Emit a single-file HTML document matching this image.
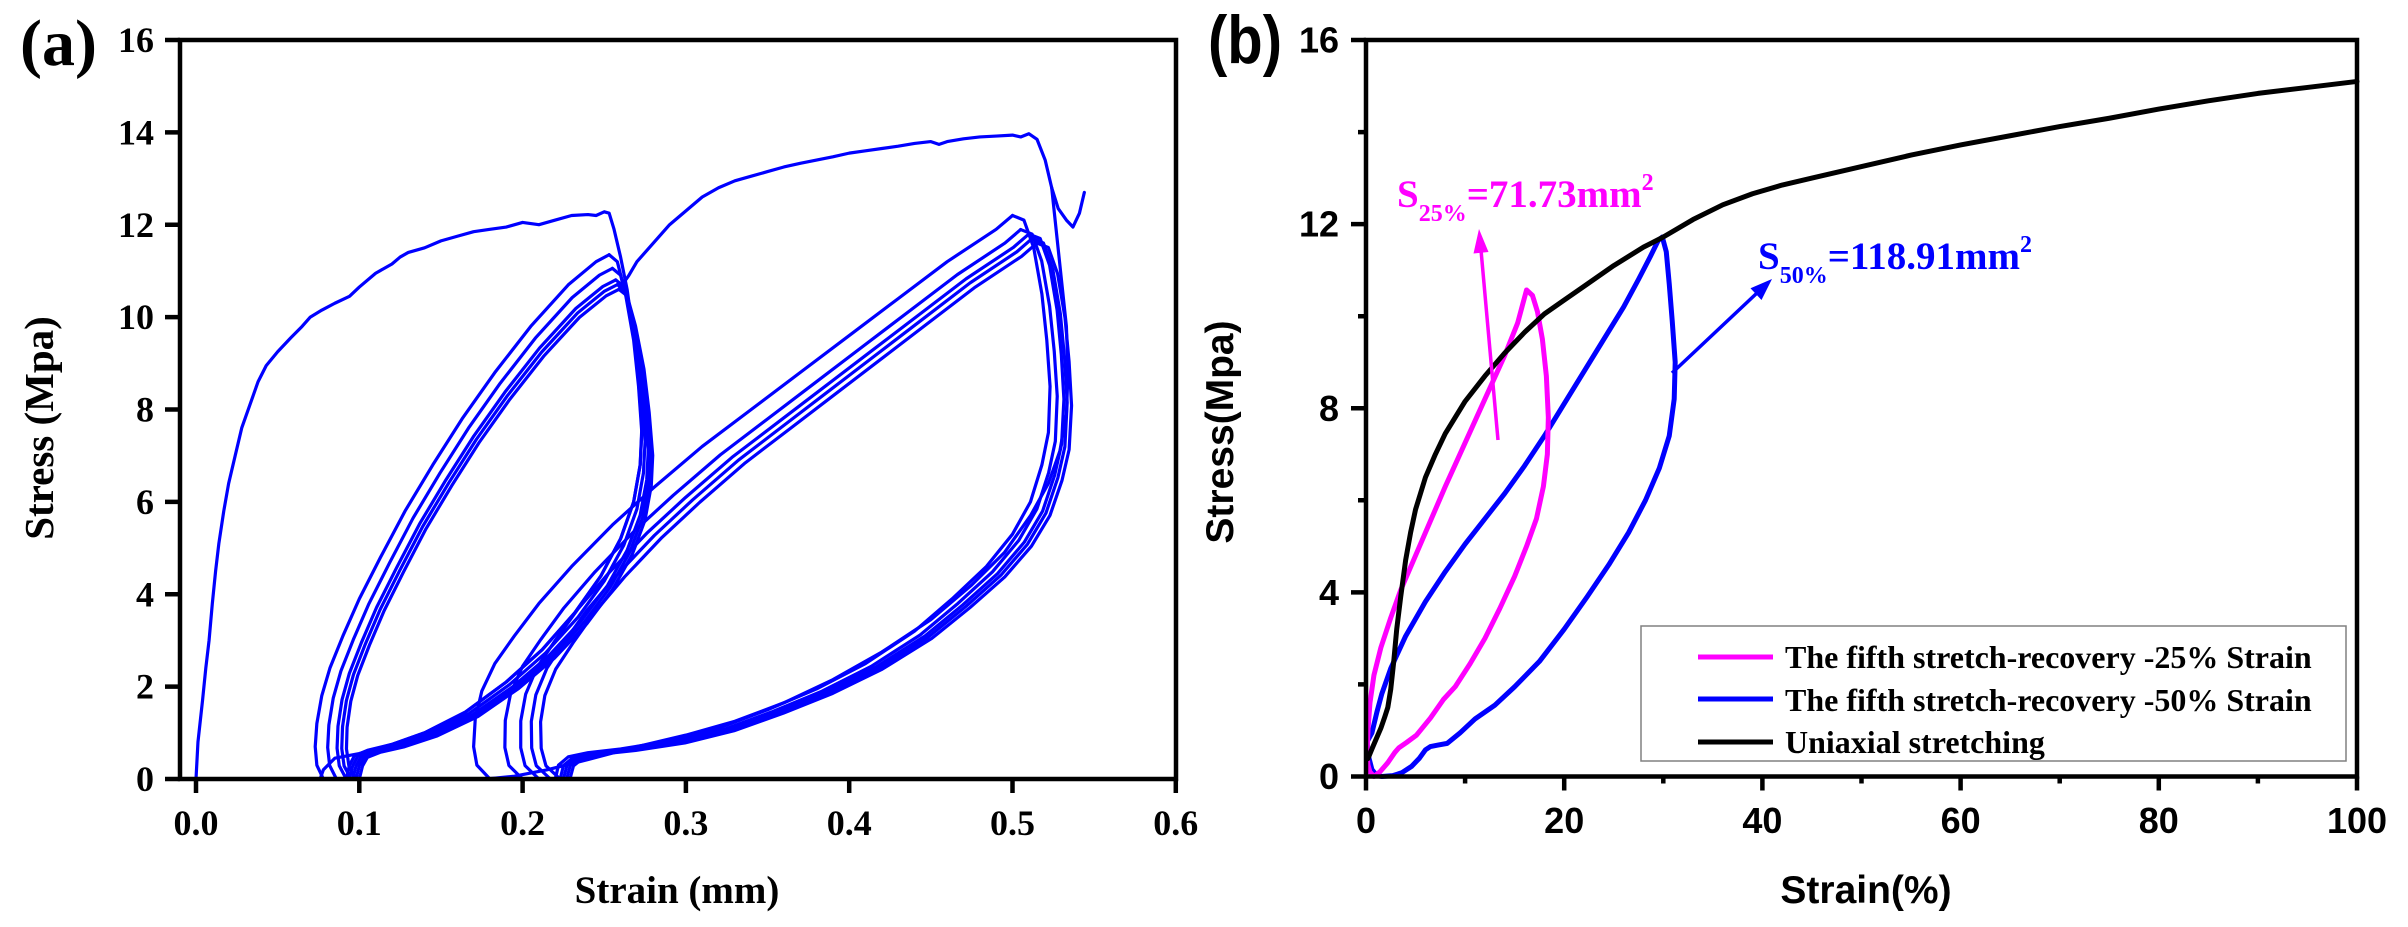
<!DOCTYPE html>
<html>
<head>
<meta charset="utf-8">
<style>
  html, body { margin: 0; padding: 0; background: #ffffff; }
  svg { display: block; }
  .serif { font-family: "Liberation Serif", "Times New Roman", serif; font-weight: bold; }
  .sans { font-family: "Liberation Sans", Arial, sans-serif; font-weight: bold; }
  .a path { fill: none; stroke: #0000ff; stroke-width: 3.2; stroke-linejoin: round; stroke-linecap: round; }
  .b path { fill: none; stroke-width: 5; stroke-linejoin: round; stroke-linecap: round; }
</style>
</head>
<body>
<svg width="2408" height="927" viewBox="0 0 2408 927" xmlns="http://www.w3.org/2000/svg">
  <rect x="0" y="0" width="2408" height="927" fill="#ffffff"/>

  <!-- ================= PANEL (a) ================= -->
  <g class="a" transform="translate(196 779) scale(1633 -46.19)">
    <!-- virgin curve + first unloading -->
    <path vector-effect="non-scaling-stroke" d="M0,0 L0.0012,0.8 0.004,1.7 0.006,2.4 0.008,3 0.01,3.8 0.012,4.5 0.014,5.1 0.017,5.8 0.02,6.4 0.024,7.0 0.028,7.6 0.033,8.1 0.038,8.6 0.043,8.95 0.05,9.25 0.058,9.55 0.065,9.8 0.07,10.0 0.077,10.15 0.085,10.3 0.094,10.45 0.1,10.65 0.11,10.95 0.12,11.15 0.125,11.3 0.13,11.4 0.14,11.5 0.15,11.65 0.16,11.75 0.17,11.85 0.18,11.9 0.19,11.95 0.2,12.05 0.21,12.0 0.22,12.1 0.23,12.2 0.24,12.22 0.245,12.2 0.25,12.28 0.253,12.25 0.256,11.9 0.26,11.3 0.264,10.6 0.268,9.6 0.271,8.6 0.273,7.6 0.272,6.8 0.268,6.0 0.26,5.2 0.248,4.4 0.232,3.6 0.212,2.8 0.19,2.1 0.165,1.45 0.14,1.0 0.12,0.75 0.1,0.55 0.085,0.45 0.078,0.2 0.076,0"/>
    <!-- loop A upper branches -->
    <path vector-effect="non-scaling-stroke" d="M0.078,0 L0.074,0.3 0.073,0.7 0.074,1.2 0.077,1.8 0.082,2.4 0.09,3.1 0.1,3.9 0.113,4.8 0.128,5.8 0.145,6.8 0.163,7.8 0.183,8.8 0.205,9.8 0.228,10.7 0.245,11.2 0.253,11.35"/>
    <path vector-effect="non-scaling-stroke" transform="matrix(1 0 -0.000529 0.974 0.008 0)" d="M0.078,0 L0.074,0.3 0.073,0.7 0.074,1.2 0.077,1.8 0.082,2.4 0.09,3.1 0.1,3.9 0.113,4.8 0.128,5.8 0.145,6.8 0.163,7.8 0.183,8.8 0.205,9.8 0.228,10.7 0.245,11.2 0.253,11.35"/>
    <path vector-effect="non-scaling-stroke" transform="matrix(1 0 -0.000881 0.952 0.014 0)" d="M0.078,0 L0.074,0.3 0.073,0.7 0.074,1.2 0.077,1.8 0.082,2.4 0.09,3.1 0.1,3.9 0.113,4.8 0.128,5.8 0.145,6.8 0.163,7.8 0.183,8.8 0.205,9.8 0.228,10.7 0.245,11.2 0.253,11.35"/>
    <path vector-effect="non-scaling-stroke" transform="matrix(1 0 -0.001057 0.943 0.017 0)" d="M0.078,0 L0.074,0.3 0.073,0.7 0.074,1.2 0.077,1.8 0.082,2.4 0.09,3.1 0.1,3.9 0.113,4.8 0.128,5.8 0.145,6.8 0.163,7.8 0.183,8.8 0.205,9.8 0.228,10.7 0.245,11.2 0.253,11.35"/>
    <path vector-effect="non-scaling-stroke" transform="matrix(1 0 -0.001233 0.934 0.02 0)" d="M0.078,0 L0.074,0.3 0.073,0.7 0.074,1.2 0.077,1.8 0.082,2.4 0.09,3.1 0.1,3.9 0.113,4.8 0.128,5.8 0.145,6.8 0.163,7.8 0.183,8.8 0.205,9.8 0.228,10.7 0.245,11.2 0.253,11.35"/>
    <!-- loop A lower branches -->
    <path vector-effect="non-scaling-stroke" d="M0.253,11.35 L0.258,11.2 0.263,10.5 0.268,9.5 0.271,8.5 0.273,7.5 0.272,6.8 0.268,6.0 0.26,5.2 0.248,4.4 0.232,3.6 0.212,2.8 0.19,2.1 0.165,1.45 0.14,1.0 0.12,0.75 0.105,0.62 0.097,0.5 0.094,0.3 0.092,0"/>
    <path vector-effect="non-scaling-stroke" transform="matrix(1 0 0 0.974 0.002 0)" d="M0.253,11.35 L0.258,11.2 0.263,10.5 0.268,9.5 0.271,8.5 0.273,7.5 0.272,6.8 0.268,6.0 0.26,5.2 0.248,4.4 0.232,3.6 0.212,2.8 0.19,2.1 0.165,1.45 0.14,1.0 0.12,0.75 0.105,0.62 0.097,0.5 0.094,0.3 0.092,0"/>
    <path vector-effect="non-scaling-stroke" transform="matrix(1 0 0 0.952 0.004 0)" d="M0.253,11.35 L0.258,11.2 0.263,10.5 0.268,9.5 0.271,8.5 0.273,7.5 0.272,6.8 0.268,6.0 0.26,5.2 0.248,4.4 0.232,3.6 0.212,2.8 0.19,2.1 0.165,1.45 0.14,1.0 0.12,0.75 0.105,0.62 0.097,0.5 0.094,0.3 0.092,0"/>
    <path vector-effect="non-scaling-stroke" transform="matrix(1 0 -0.000088 0.943 0.006 0)" d="M0.253,11.35 L0.258,11.2 0.263,10.5 0.268,9.5 0.271,8.5 0.273,7.5 0.272,6.8 0.268,6.0 0.26,5.2 0.248,4.4 0.232,3.6 0.212,2.8 0.19,2.1 0.165,1.45 0.14,1.0 0.12,0.75 0.105,0.62 0.097,0.5 0.094,0.3 0.092,0"/>
    <path vector-effect="non-scaling-stroke" transform="matrix(1 0 -0.000176 0.934 0.008 0)" d="M0.253,11.35 L0.258,11.2 0.263,10.5 0.268,9.5 0.271,8.5 0.273,7.5 0.272,6.8 0.268,6.0 0.26,5.2 0.248,4.4 0.232,3.6 0.212,2.8 0.19,2.1 0.165,1.45 0.14,1.0 0.12,0.75 0.105,0.62 0.097,0.5 0.094,0.3 0.092,0"/>
    <!-- reload to 50% + tail -->
    <path vector-effect="non-scaling-stroke" d="M0.259,10.6 L0.265,10.9 0.27,11.2 0.28,11.6 0.29,12.0 0.3,12.3 0.31,12.6 0.32,12.8 0.33,12.95 0.34,13.05 0.35,13.15 0.36,13.25 0.37,13.33 0.38,13.4 0.39,13.47 0.4,13.55 0.41,13.6 0.42,13.65 0.43,13.7 0.44,13.76 0.45,13.8 0.455,13.74 0.46,13.8 0.47,13.86 0.48,13.9 0.49,13.92 0.5,13.94 0.505,13.9 0.51,13.97 0.515,13.85 0.52,13.4 0.524,12.8 0.528,12.35 0.533,12.1 0.537,11.95 0.541,12.25 0.544,12.7"/>
    <!-- first unloading from 50% -->
    <path vector-effect="non-scaling-stroke" d="M0.524,12.8 L0.527,11.8 0.53,10.8 0.533,9.8 0.534,8.8 0.533,7.9 0.529,7.1 0.522,6.4 0.511,5.7 0.495,4.9 0.475,4.2 0.45,3.45 0.42,2.75 0.39,2.15 0.36,1.65 0.33,1.25 0.3,0.95 0.27,0.7 0.24,0.42 0.215,0.2 0.195,0.06 0.178,0"/>
    <!-- loop B upper branches -->
    <path vector-effect="non-scaling-stroke" d="M0.18,0 L0.172,0.3 0.17,0.7 0.171,1.3 0.175,1.9 0.183,2.5 0.195,3.1 0.21,3.8 0.23,4.6 0.255,5.5 0.28,6.3 0.31,7.2 0.34,8.0 0.37,8.8 0.4,9.6 0.43,10.4 0.46,11.2 0.49,11.9 0.5,12.2"/>
    <path vector-effect="non-scaling-stroke" transform="matrix(1 0 -0.00123 0.975 0.02 0)" d="M0.18,0 L0.172,0.3 0.17,0.7 0.171,1.3 0.175,1.9 0.183,2.5 0.195,3.1 0.21,3.8 0.23,4.6 0.255,5.5 0.28,6.3 0.31,7.2 0.34,8.0 0.37,8.8 0.4,9.6 0.43,10.4 0.46,11.2 0.49,11.9 0.5,12.2"/>
    <path vector-effect="non-scaling-stroke" transform="matrix(1 0 -0.00164 0.967 0.03 0)" d="M0.18,0 L0.172,0.3 0.17,0.7 0.171,1.3 0.175,1.9 0.183,2.5 0.195,3.1 0.21,3.8 0.23,4.6 0.255,5.5 0.28,6.3 0.31,7.2 0.34,8.0 0.37,8.8 0.4,9.6 0.43,10.4 0.46,11.2 0.49,11.9 0.5,12.2"/>
    <path vector-effect="non-scaling-stroke" transform="matrix(1 0 -0.00205 0.959 0.037 0)" d="M0.18,0 L0.172,0.3 0.17,0.7 0.171,1.3 0.175,1.9 0.183,2.5 0.195,3.1 0.21,3.8 0.23,4.6 0.255,5.5 0.28,6.3 0.31,7.2 0.34,8.0 0.37,8.8 0.4,9.6 0.43,10.4 0.46,11.2 0.49,11.9 0.5,12.2"/>
    <path vector-effect="non-scaling-stroke" transform="matrix(1 0 -0.0023 0.951 0.043 0)" d="M0.18,0 L0.172,0.3 0.17,0.7 0.171,1.3 0.175,1.9 0.183,2.5 0.195,3.1 0.21,3.8 0.23,4.6 0.255,5.5 0.28,6.3 0.31,7.2 0.34,8.0 0.37,8.8 0.4,9.6 0.43,10.4 0.46,11.2 0.49,11.9 0.5,12.2"/>
    <!-- loop B lower branches -->
    <path vector-effect="non-scaling-stroke" d="M0.5,12.2 L0.507,12.1 0.513,11.5 0.518,10.5 0.521,9.5 0.523,8.5 0.522,7.5 0.518,6.8 0.511,6.0 0.5,5.3 0.484,4.6 0.463,3.9 0.44,3.2 0.41,2.5 0.38,1.95 0.35,1.5 0.32,1.1 0.29,0.82 0.26,0.65 0.24,0.57 0.228,0.48 0.222,0.3 0.22,0"/>
    <path vector-effect="non-scaling-stroke" transform="matrix(1 0 0.000164 0.975 0.003 0)" d="M0.5,12.2 L0.507,12.1 0.513,11.5 0.518,10.5 0.521,9.5 0.523,8.5 0.522,7.5 0.518,6.8 0.511,6.0 0.5,5.3 0.484,4.6 0.463,3.9 0.44,3.2 0.41,2.5 0.38,1.95 0.35,1.5 0.32,1.1 0.29,0.82 0.26,0.65 0.24,0.57 0.228,0.48 0.222,0.3 0.22,0"/>
    <path vector-effect="non-scaling-stroke" transform="matrix(1 0 0.00041 0.967 0.005 0)" d="M0.5,12.2 L0.507,12.1 0.513,11.5 0.518,10.5 0.521,9.5 0.523,8.5 0.522,7.5 0.518,6.8 0.511,6.0 0.5,5.3 0.484,4.6 0.463,3.9 0.44,3.2 0.41,2.5 0.38,1.95 0.35,1.5 0.32,1.1 0.29,0.82 0.26,0.65 0.24,0.57 0.228,0.48 0.222,0.3 0.22,0"/>
    <path vector-effect="non-scaling-stroke" transform="matrix(1 0 0.00041 0.959 0.007 0)" d="M0.5,12.2 L0.507,12.1 0.513,11.5 0.518,10.5 0.521,9.5 0.523,8.5 0.522,7.5 0.518,6.8 0.511,6.0 0.5,5.3 0.484,4.6 0.463,3.9 0.44,3.2 0.41,2.5 0.38,1.95 0.35,1.5 0.32,1.1 0.29,0.82 0.26,0.65 0.24,0.57 0.228,0.48 0.222,0.3 0.22,0"/>
    <path vector-effect="non-scaling-stroke" transform="matrix(1 0 0.00049 0.951 0.009 0)" d="M0.5,12.2 L0.507,12.1 0.513,11.5 0.518,10.5 0.521,9.5 0.523,8.5 0.522,7.5 0.518,6.8 0.511,6.0 0.5,5.3 0.484,4.6 0.463,3.9 0.44,3.2 0.41,2.5 0.38,1.95 0.35,1.5 0.32,1.1 0.29,0.82 0.26,0.65 0.24,0.57 0.228,0.48 0.222,0.3 0.22,0"/>
  </g>

  <!-- axes (a) -->
  <g stroke="#000" stroke-width="4.5" fill="none">
    <rect x="180" y="40" width="996" height="739"/>
    <path d="M165 779H180 M165 686.6H180 M165 594.25H180 M165 501.9H180 M165 409.5H180 M165 317.1H180 M165 224.75H180 M165 132.4H180 M165 40H180"/>
    <path d="M196 779V793 M359.3 779V793 M522.6 779V793 M685.9 779V793 M849.2 779V793 M1012.5 779V793 M1175.8 779V793"/>
  </g>
  <g class="serif" font-size="36" fill="#000" text-anchor="end">
    <text x="154" y="791">0</text>
    <text x="154" y="698.6">2</text>
    <text x="154" y="606.3">4</text>
    <text x="154" y="513.9">6</text>
    <text x="154" y="421.5">8</text>
    <text x="154" y="329.1">10</text>
    <text x="154" y="236.8">12</text>
    <text x="154" y="144.4">14</text>
    <text x="154" y="52">16</text>
  </g>
  <g class="serif" font-size="36" fill="#000" text-anchor="middle">
    <text x="196" y="835">0.0</text>
    <text x="359.3" y="835">0.1</text>
    <text x="522.6" y="835">0.2</text>
    <text x="685.9" y="835">0.3</text>
    <text x="849.2" y="835">0.4</text>
    <text x="1012.5" y="835">0.5</text>
    <text x="1175.8" y="835">0.6</text>
  </g>
  <text class="serif" font-size="39" x="677" y="903" text-anchor="middle">Strain (mm)</text>
  <text class="serif" font-size="41" text-anchor="middle" transform="translate(53 428) rotate(-90)">Stress (Mpa)</text>
  <text class="serif" font-size="66" x="20" y="65">(a)</text>

  <!-- ================= PANEL (b) ================= -->
  <g class="b" transform="translate(1366 776.5) scale(9.91 -46.03)">
    <path vector-effect="non-scaling-stroke" stroke="#0000ff" d="M0.1,0.75 L0.6,0.95 1.1,1.4 1.6,1.8 2.5,2.35 4,3.05 6,3.8 8,4.45 10,5.05 12,5.6 14,6.15 16,6.75 18,7.4 20,8.1 22,8.8 24,9.5 26,10.2 27.5,10.8 28.7,11.3 29.5,11.65 29.9,11.72 30.3,11.4 30.6,10.7 30.9,9.9 31.2,9.0 31.1,8.2 30.6,7.4 29.6,6.7 28.2,6.0 26.5,5.3 24.5,4.6 22.3,3.9 20,3.2 17.5,2.5 15,1.95 13,1.55 11,1.25 9.5,0.95 8.2,0.72 7.2,0.68 6.5,0.65 6,0.58 5.4,0.4 4.6,0.22 3.6,0.08 2.7,0.02 1.6,0 1.1,0.02 0.6,0.15 0.3,0.4 0.1,0.75"/>
    <path vector-effect="non-scaling-stroke" stroke="#ff00ff" d="M0.1,0.45 L0.2,1.0 0.4,1.6 0.8,2.2 1.5,2.8 2.5,3.45 3.5,4.05 5,4.8 6.5,5.55 8,6.3 10,7.25 12,8.2 14,9.15 15.3,9.85 16.2,10.57 16.8,10.45 17.3,10.1 17.8,9.5 18.2,8.7 18.4,7.8 18.3,7.0 17.9,6.3 17.2,5.6 16.2,5.0 15,4.35 13.5,3.65 12,3.0 10.5,2.45 9,1.95 7.8,1.67 6.5,1.27 5.1,0.9 4.1,0.74 3.3,0.62 2.9,0.52 2.2,0.3 1.4,0.1 0.8,0 0.4,0.1 0.2,0.25 0.1,0.45"/>
    <path vector-effect="non-scaling-stroke" stroke="#000000" d="M0.2,0.39 L0.6,0.6 1.0,0.8 1.5,1.05 1.9,1.3 2.2,1.5 2.5,1.9 2.8,2.5 3.1,3.2 3.5,3.9 4,4.7 4.5,5.3 5,5.8 6,6.5 7,7.0 8,7.45 9,7.8 10,8.15 12,8.7 14,9.2 16,9.65 18,10.05 20,10.35 22,10.65 25,11.1 28,11.5 30,11.72 33,12.1 36,12.42 39,12.66 42,12.85 45,13.0 50,13.25 55,13.5 60,13.72 65,13.92 70,14.12 75,14.3 80,14.5 85,14.68 90,14.84 95,14.97 100,15.1"/>
  </g>

  <!-- axes (b) -->
  <g stroke="#000" stroke-width="4.5" fill="none">
    <rect x="1366" y="40" width="991" height="736.5"/>
    <path d="M1351 776.5H1366 M1351 592.4H1366 M1351 408.25H1366 M1351 224.1H1366 M1351 40H1366"/>
    <path d="M1358 684.4H1366 M1358 500.3H1366 M1358 316.2H1366 M1358 132.1H1366"/>
    <path d="M1366 776.5V790.5 M1564.2 776.5V790.5 M1762.4 776.5V790.5 M1960.6 776.5V790.5 M2158.8 776.5V790.5 M2357 776.5V790.5"/>
    <path d="M1465.1 776.5V783.5 M1663.3 776.5V783.5 M1861.5 776.5V783.5 M2059.7 776.5V783.5 M2257.9 776.5V783.5"/>
  </g>
  <g class="sans" font-size="36" fill="#000" text-anchor="end">
    <text x="1339" y="789">0</text>
    <text x="1339" y="604.9">4</text>
    <text x="1339" y="420.75">8</text>
    <text x="1339" y="236.6">12</text>
    <text x="1339" y="52.5">16</text>
  </g>
  <g class="sans" font-size="36" fill="#000" text-anchor="middle">
    <text x="1366" y="833">0</text>
    <text x="1564.2" y="833">20</text>
    <text x="1762.4" y="833">40</text>
    <text x="1960.6" y="833">60</text>
    <text x="2158.8" y="833">80</text>
    <text x="2357" y="833">100</text>
  </g>
  <text class="sans" font-size="39" x="1866" y="903" text-anchor="middle">Strain(%)</text>
  <text class="sans" font-size="39" text-anchor="middle" transform="translate(1233 432) rotate(-90)">Stress(Mpa)</text>
  <text class="sans" font-size="68" x="1208" y="63" textLength="74" lengthAdjust="spacingAndGlyphs">(b)</text>

  <!-- legend -->
  <rect x="1641" y="626" width="705" height="135" fill="#ffffff" stroke="#808080" stroke-width="1.5"/>
  <line x1="1698" y1="657" x2="1773" y2="657" stroke="#ff00ff" stroke-width="5"/>
  <line x1="1698" y1="699" x2="1773" y2="699" stroke="#0000ff" stroke-width="5"/>
  <line x1="1698" y1="742" x2="1773" y2="742" stroke="#000000" stroke-width="5"/>
  <g class="serif" font-size="32" fill="#000">
    <text x="1785" y="668">The fifth stretch-recovery -25% Strain</text>
    <text x="1785" y="711">The fifth stretch-recovery -50% Strain</text>
    <text x="1785" y="753">Uniaxial stretching</text>
  </g>

  <!-- annotations -->
  <text class="serif" fill="#ff00ff" x="1397" y="207" font-size="39">S<tspan font-size="24" dy="14">25%</tspan><tspan font-size="39" dy="-14">=71.73mm</tspan><tspan font-size="24" dy="-17">2</tspan></text>
  <line x1="1498" y1="440" x2="1481" y2="250" stroke="#ff00ff" stroke-width="3.5"/>
  <polygon points="1479,229 1488.5,252 1473.5,253.5" fill="#ff00ff"/>

  <text class="serif" fill="#0000ff" x="1758" y="269" font-size="39">S<tspan font-size="24" dy="14">50%</tspan><tspan font-size="39" dy="-14">=118.91mm</tspan><tspan font-size="24" dy="-17">2</tspan></text>
  <line x1="1672" y1="373" x2="1757" y2="293" stroke="#0000ff" stroke-width="3.5"/>
  <polygon points="1772,279 1761.5,300 1750.5,288.3" fill="#0000ff"/>
</svg>
</body>
</html>
